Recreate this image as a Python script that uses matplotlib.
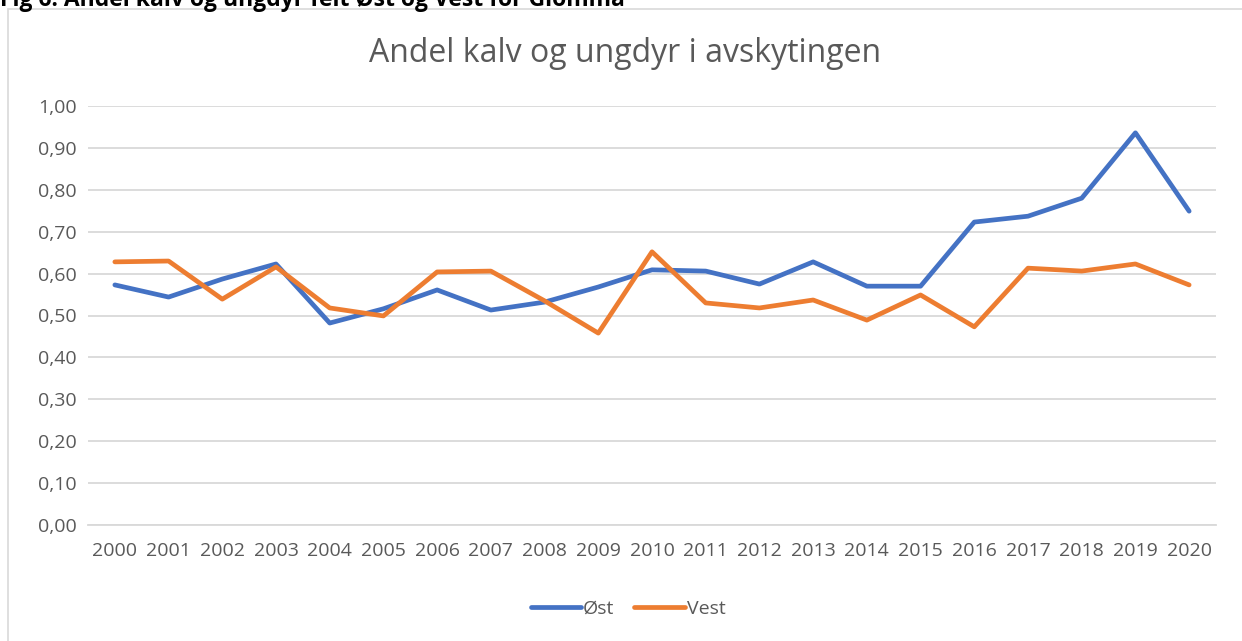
import numpy as np
import matplotlib.pyplot as plt
from matplotlib.patches import Rectangle
from matplotlib.ticker import FuncFormatter

plt.rcParams['font.family'] = ['Open Sans', 'DejaVu Sans']

years = [str(y) for y in range(2000, 2021)]
ost = [0.573, 0.544, 0.587, 0.623, 0.482, 0.516, 0.561, 0.513, 0.532, 0.568, 0.609,
       0.606, 0.575, 0.628, 0.570, 0.570, 0.723, 0.737, 0.780, 0.936, 0.749]
vest = [0.628, 0.630, 0.539, 0.616, 0.518, 0.499, 0.604, 0.606, 0.535, 0.458, 0.652,
        0.530, 0.518, 0.537, 0.489, 0.549, 0.473, 0.613, 0.606, 0.623, 0.573]

GRAY = '#595959'
BLUE = '#4472C4'
ORANGE = '#ED7D31'

fig = plt.figure(figsize=(12.42, 6.41), dpi=100)

# chart frame
fig.patches.append(Rectangle((8 / 1242, -0.01), 1.05, 1 - 9 / 641 + 0.01,
                             transform=fig.transFigure, fill=False,
                             edgecolor='#d9d9d9', linewidth=1.2))

# caption above chart, cut off by the top edge like in the source
fig.text(0.0, 1 - 6 / 641, 'Fig 6: Andel kalv og ungdyr felt Øst og Vest for Glomma',
         fontsize=16.5, fontweight='bold', va='baseline', ha='left', color='black')

ax = fig.add_axes([88 / 1242, 116 / 641, (1216 - 88) / 1242, (525 - 106) / 641])
x = np.arange(len(years))
ax.plot(x, ost, color=BLUE, linewidth=3.4, solid_capstyle='round', label='Øst')
ax.plot(x, vest, color=ORANGE, linewidth=3.4, solid_capstyle='round', label='Vest')

ax.set_xlim(-0.5, len(years) - 0.5)
ax.set_ylim(0, 1.0)
ax.set_yticks(np.arange(0, 1.01, 0.1))
ax.yaxis.set_major_formatter(FuncFormatter(lambda v, p: f'{v:.2f}'.replace('.', ',')))
ax.set_xticks(x)
ax.set_xticklabels(years)
ax.grid(axis='y', color='#d9d9d9', linewidth=1.3)
ax.set_axisbelow(True)
for s in ['top', 'right', 'left']:
    ax.spines[s].set_visible(False)
ax.spines['bottom'].set_color('#d9d9d9')
ax.spines['bottom'].set_linewidth(1.3)
ax.tick_params(length=0, labelsize=14, colors=GRAY)
ax.tick_params(axis='x', pad=12)
ax.tick_params(axis='y', pad=8)

fig.text(625 / 1242, 1 - 53 / 641, 'Andel kalv og ungdyr i avskytingen',
         fontsize=23, color=GRAY, ha='center', va='center')

fig.legend(loc='center', bbox_to_anchor=(628 / 1242, 1 - 609 / 641), ncol=2,
           frameon=False, fontsize=14, labelcolor=GRAY, handlelength=2.6,
           handletextpad=0.1, columnspacing=1.0)

fig.savefig('out.png', dpi=100)
